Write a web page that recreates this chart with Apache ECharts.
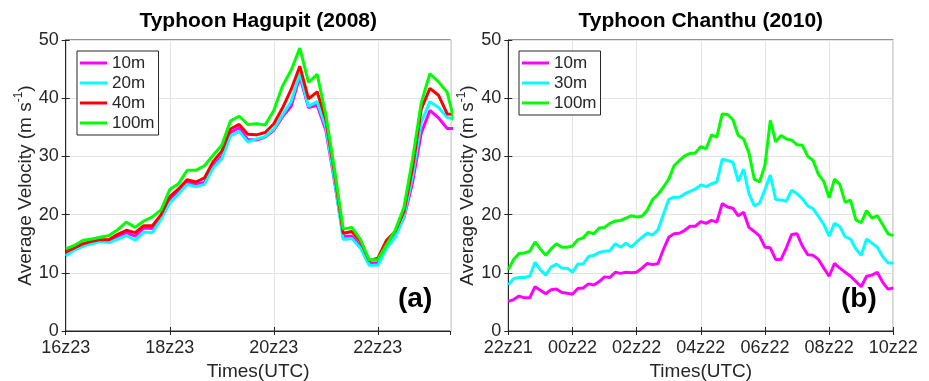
<!DOCTYPE html>
<html>
<head>
<meta charset="utf-8">
<script src="https://cdn.jsdelivr.net/npm/echarts@6/dist/echarts.min.js"></script>
<style>
  html, body { margin: 0; padding: 0; background: #fff; }
  #chart { width: 929px; height: 381px; }
</style>
</head>
<body>
<div id="chart"></div>
<script>
// 10-minute samples; x is hours after the first tick
const stepHours = 1 / 6;

// Typhoon Hagupit (2008), starting 16z23
const hag10 = [13.2,14.0,14.6,15.2,15.6,15.6,16.2,16.9,16.3,17.7,17.6,19.6,22.6,23.9,25.5,25.2,25.5,28.4,30.0,34.1,34.9,32.9,32.8,33.3,34.5,36.8,38.6,43.7,38.4,38.8,34.5,25.7,16.3,16.3,14.6,11.7,11.7,14.9,16.5,19.4,25.5,34.0,37.9,36.6,34.8,34.8];
const hag20 = [12.9,13.9,14.6,15.0,15.4,15.2,15.8,16.4,15.6,17.0,16.9,19.2,22.0,23.5,25.2,24.8,25.2,28.0,29.6,33.5,34.3,32.5,33.0,33.4,34.7,37.1,39.4,44.3,38.6,39.4,35.1,26.0,15.7,15.9,14.2,11.3,11.3,14.2,16.1,19.6,26.6,35.8,39.4,38.4,36.7,36.3];
const hag40 = [13.6,14.3,15.0,15.4,15.7,15.7,16.6,17.3,16.9,18.1,18.1,20.0,23.1,24.4,26.0,25.6,26.3,29.1,30.9,34.7,35.5,33.8,33.7,34.1,35.6,38.3,41.5,45.5,39.9,41.1,36.3,27.2,16.8,17.1,15.4,12.1,12.5,15.6,17.1,20.5,28.0,38.1,41.7,40.5,37.3,37.2];
const hag100 = [14.1,14.7,15.6,15.8,16.1,16.4,17.4,18.7,17.8,18.9,19.6,20.8,24.3,25.3,27.6,27.6,28.4,30.2,31.9,36.1,36.9,35.5,35.6,35.4,37.9,42.1,44.8,48.6,42.7,44.1,37.1,27.8,17.5,17.8,15.7,12.2,12.3,14.8,17.3,21.2,29.5,39.2,44.2,42.8,41.0,35.0];

// Typhoon Chanthu (2010), starting 22z21
const chan10 = [5.1,5.4,6.0,5.7,5.7,7.6,7.0,6.4,7.1,7.2,6.6,6.5,6.3,7.3,7.4,8.1,7.9,8.5,9.3,9.2,10.1,9.9,10.1,10.0,10.1,
  10.8,11.6,11.4,11.6,14.0,16.1,16.7,16.8,17.3,18.0,18.0,18.8,18.5,19.0,18.7,21.9,21.3,21.1,19.8,20.4,17.8,17.1,16.3,14.4,
  14.3,12.3,12.3,14.3,16.6,16.7,14.6,13.1,13.0,12.3,10.8,9.4,11.6,10.8,10.1,9.4,8.5,7.6,9.4,9.6,10.1,8.4,7.2,7.4];
const chan30 = [7.9,9.0,9.2,9.2,9.4,11.8,10.5,9.6,11.0,11.5,10.8,10.8,10.1,11.5,11.5,12.8,13.0,13.5,13.7,13.8,15.0,14.4,15.1,14.4,15.3,
  16.1,16.8,16.5,17.4,20.0,22.6,23.0,23.0,23.6,24.0,24.4,25.1,24.8,25.3,25.6,29.5,29.3,29.0,25.7,27.8,23.6,21.5,22.0,24.3,
  26.8,22.6,22.5,22.3,24.2,23.6,22.7,21.5,21.0,19.7,18.3,16.3,18.5,17.9,16.2,15.8,14.1,13.0,15.8,15.1,14.4,12.8,11.7,11.7];
const chan100 = [10.5,12.3,13.3,13.4,13.7,15.3,14.1,13.0,14.1,15.0,14.4,14.4,14.6,15.7,16.0,17.0,16.7,17.7,17.8,18.5,18.9,19.0,19.4,19.8,19.6,
  19.7,20.8,22.6,23.5,24.7,26.1,28.4,29.3,30.1,30.5,30.6,31.7,31.3,33.7,33.3,37.3,37.2,36.3,33.6,33.0,30.6,26.1,25.6,28.5,
  36.2,32.5,33.6,33.0,32.8,32.0,31.9,30.0,29.3,26.9,25.7,22.9,26.1,25.2,22.1,22.5,19.1,18.6,20.7,19.4,19.8,18.3,16.7,16.4];

const hagLegend = ['10m', '20m', '40m', '100m'];
const chanLegend = ['10m', '30m', '100m'];

const FONT = "'Liberation Sans', Arial, Helvetica, sans-serif";
const INK = '#262626';
const GRIDLINE = '#e3e3e3';

const pad2 = (n) => (n < 10 ? '0' : '') + n;
const toPairs = (arr) => arr.map((v, i) => [i * stepHours, v]);

function bottomAxis(gridIndex, max, fmt, showMax) {
  return {
    type: 'value', gridIndex, position: 'bottom', min: 0, max, interval: 2,
    name: 'Times(UTC)', nameLocation: 'middle', nameGap: 29,
    nameTextStyle: { fontFamily: FONT, fontSize: 19, color: INK },
    axisLine: { show: true, onZero: false, lineStyle: { color: INK, width: 1 } },
    axisTick: { show: true, inside: true, length: 4, lineStyle: { color: INK } },
    axisLabel: { fontFamily: FONT, fontSize: 18, color: INK, margin: 8, formatter: fmt, showMaxLabel: showMax, showMinLabel: true },
    splitLine: { show: true, lineStyle: { color: GRIDLINE, width: 1 } }
  };
}
function topAxis(gridIndex, max) {
  return {
    type: 'value', gridIndex, position: 'top', min: 0, max, interval: 2,
    axisLine: { show: false }, axisLabel: { show: false }, splitLine: { show: false },
    axisTick: { show: true, inside: true, length: 4, lineStyle: { color: INK } }
  };
}
function leftAxis(gridIndex) {
  return {
    type: 'value', gridIndex, position: 'left', min: 0, max: 50, interval: 10,
    name: '{a|Average Velocity (m s}{s|-1}{a|)}', nameLocation: 'middle', nameGap: 30, nameRotate: 90,
    nameTextStyle: {
      rich: {
        a: { fontFamily: FONT, fontSize: 19, color: INK, lineHeight: 22, verticalAlign: 'bottom' },
        s: { fontFamily: FONT, fontSize: 12, color: INK, lineHeight: 22, verticalAlign: 'top' }
      }
    },
    axisLine: { show: true, lineStyle: { color: INK, width: 1 } },
    axisTick: { show: true, inside: true, length: 4, lineStyle: { color: INK } },
    axisLabel: { fontFamily: FONT, fontSize: 18, color: INK, margin: 7 },
    splitLine: { show: true, lineStyle: { color: GRIDLINE, width: 1 } }
  };
}
function rightAxis(gridIndex) {
  return {
    type: 'value', gridIndex, position: 'right', min: 0, max: 50, interval: 10,
    axisLine: { show: false }, axisLabel: { show: false }, splitLine: { show: false },
    axisTick: { show: true, inside: true, length: 4, lineStyle: { color: INK } }
  };
}
function lineSeries(name, color, data, axisIndex) {
  return {
    name, type: 'line', xAxisIndex: axisIndex, yAxisIndex: axisIndex,
    data: toPairs(data), showSymbol: false, symbol: 'none',
    color, lineStyle: { color, width: 3 }, clip: true
  };
}
function legendBox(left, names) {
  return {
    left, top: 51, orient: 'vertical', data: names, icon: 'rect',
    itemWidth: 27, itemHeight: 3, itemGap: 0, padding: [2, 4, 2, 3],
    borderColor: INK, borderWidth: 1, backgroundColor: '#fff',
    selectedMode: false,
    textStyle: { fontFamily: FONT, fontSize: 17, color: INK, lineHeight: 20 }
  };
}

const hagFmt = (v) => pad2((16 + v) % 24) + 'z23';
const chanFmt = (v) => { const h = 22 + v; return pad2(h % 24) + 'z' + (h >= 24 ? '22' : '21'); };

const chart = echarts.init(document.getElementById('chart'), null, { renderer: 'canvas' });
chart.setOption({
  animation: false,
  backgroundColor: '#fff',
  grid: [
    { left: 65.7, top: 40, width: 385, height: 291, show: true, borderColor: INK, borderWidth: 1, backgroundColor: '#fff', containLabel: false, outerBoundsMode: 'none' },
    { left: 508.3, top: 40, width: 385, height: 291, show: true, borderColor: INK, borderWidth: 1, backgroundColor: '#fff', containLabel: false, outerBoundsMode: 'none' }
  ],
  xAxis: [bottomAxis(0, 7.4, hagFmt, false), topAxis(0, 7.4), bottomAxis(1, 12, chanFmt, true), topAxis(1, 12)],
  yAxis: [leftAxis(0), rightAxis(0), leftAxis(1), rightAxis(1)],
  legend: [legendBox(77, hagLegend), legendBox(519, chanLegend)],
  graphic: [
    { type: 'text', x: 258.2, y: 11, style: { text: 'Typhoon Hagupit (2008)', textAlign: 'center', textVerticalAlign: 'top', font: 'bold 21px ' + FONT, fill: '#000' } },
    { type: 'text', x: 700.8, y: 11, style: { text: 'Typhoon Chanthu (2010)', textAlign: 'center', textVerticalAlign: 'top', font: 'bold 21px ' + FONT, fill: '#000' } },
    { type: 'text', x: 398, y: 285, z: 10, style: { text: '(a)', font: 'bold 28px ' + FONT, fill: '#000' } },
    { type: 'text', x: 841, y: 285, z: 10, style: { text: '(b)', font: 'bold 28px ' + FONT, fill: '#000' } }
  ],
  series: [
    lineSeries('10m', '#ff00ff', hag10, 0),
    lineSeries('20m', '#00ffff', hag20, 0),
    lineSeries('40m', '#ff0000', hag40, 0),
    lineSeries('100m', '#00ff00', hag100, 0),
    lineSeries('10m', '#ff00ff', chan10, 2),
    lineSeries('30m', '#00ffff', chan30, 2),
    lineSeries('100m', '#00ff00', chan100, 2)
  ]
});
</script>
</body>
</html>
